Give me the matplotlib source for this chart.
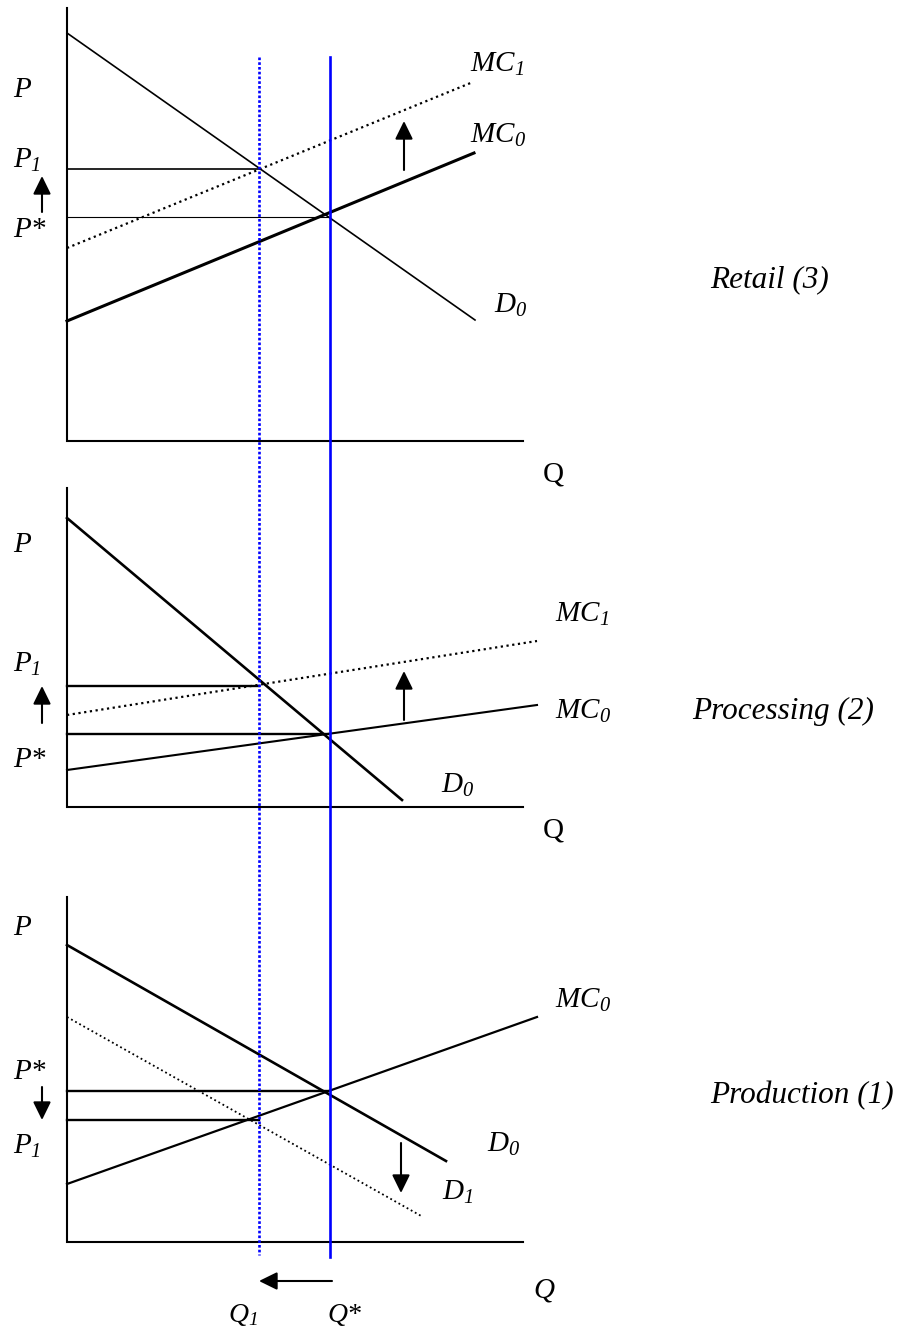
import matplotlib
matplotlib.use("Agg")
import matplotlib.pyplot as plt

plt.rcParams["font.family"] = ["Liberation Serif", "DejaVu Serif"]
plt.rcParams["mathtext.fontset"] = "custom"
plt.rcParams["mathtext.rm"] = "Liberation Serif:italic"
plt.rcParams["mathtext.it"] = "Liberation Serif:italic"
plt.rcParams["mathtext.default"] = "it"

# --- diagram geometry (pixel units, y grows downward) ---
# axes frames: x of P axis, top of P axis, y of Q axis, right end of Q axis
axis_x = [67, 67, 67]
axis_top = [8, 488, 897]
axis_base = [441, 807, 1242]
axis_right = [523, 523, 523]

# curves: (x0, y0, x1, y1, style, width)
retail_curves = [
    (67, 33, 475, 320, "-", 1.2),      # D0
    (67, 321, 474, 153, "-", 2.2),     # MC0
    (67, 248, 473, 82, ":", 1.6),      # MC1
]
processing_curves = [
    (67, 518, 402, 800, "-", 1.9),     # D0
    (67, 770, 537, 705, "-", 1.5),     # MC0
    (67, 715, 537, 641, ":", 1.6),     # MC1
]
production_curves = [
    (67, 945, 446, 1161, "-", 1.9),    # D0
    (67, 1017, 423, 1217, ":", 1.3),   # D1
    (67, 1184, 537, 1017, "-", 1.6),   # MC0
]

# price guide lines: (y, x_end, width)
price_lines = [
    (169, 259, 1.2), (217, 330, 0.8),
    (686, 259, 1.7), (734, 328, 1.7),
    (1091, 330, 1.7), (1120, 259, 1.7),
]

# quantities Q1 (dotted) and Q* (solid)
q_levels = [259, 330]
q_top = 57
q_bottom = [1255, 1257]

# arrows: (x_tail, y_tail, x_head, y_head)
arrows = [
    (42, 212, 42, 176), (404, 170, 404, 121),
    (42, 723, 42, 686), (404, 720, 404, 671),
    (42, 1087, 42, 1120), (401, 1143, 401, 1193),
    (332, 1281, 259, 1281),
]

# labels: (x, baseline y, text, size)
labels = [
    (13, 97, "P", 21), (13, 168, r"$P_1$", 21), (13, 237, "P*", 21),
    (470, 72, r"$MC_1$", 21), (470, 143, r"$MC_0$", 21),
    (494, 313, r"$D_0$", 21), (710, 287, "Retail (3)", 22.5),
    (13, 552, "P", 21), (13, 672, r"$P_1$", 21), (13, 767, "P*", 21),
    (555, 622, r"$MC_1$", 21), (555, 719, r"$MC_0$", 21),
    (441, 793, r"$D_0$", 21), (692, 719, "Processing (2)", 22.5),
    (13, 935, "P", 21), (13, 1079, "P*", 21), (13, 1154, r"$P_1$", 21),
    (555, 1008, r"$MC_0$", 21), (710, 1103, "Production (1)", 22.5),
    (487, 1152, r"$D_0$", 21), (442, 1200, r"$D_1$", 21),
    (533, 1298, "Q", 21), (228, 1322, r"$Q_1$", 20), (327, 1322, "Q*", 20),
]
upright_labels = [(543, 482, "Q"), (543, 838, "Q")]

fig = plt.figure(figsize=(9.02, 13.29), dpi=100)
ax = fig.add_axes([0, 0, 1, 1])
ax.set_xlim(0, 902)
ax.set_ylim(1329, 0)
ax.axis("off")

for i in range(3):
    ax.plot([axis_x[i], axis_x[i], axis_right[i]],
            [axis_top[i], axis_base[i], axis_base[i]],
            color="black", lw=1.5, solid_joinstyle="miter")

for curves in [retail_curves, processing_curves, production_curves]:
    for x0, y0, x1, y1, ls, w in curves:
        if ls == ":":
            ax.plot([x0, x1], [y0, y1], color="black", lw=w,
                    linestyle=(0, (1, 1.6)))
        else:
            ax.plot([x0, x1], [y0, y1], color="black", lw=w)

for y, xe, w in price_lines:
    ax.plot([67, xe], [y, y], color="black", lw=w)

ax.plot([q_levels[0], q_levels[0]], [q_top, q_bottom[0]], color="#0000ff",
        lw=1.9, linestyle=(0, (1, 0.8)))
ax.plot([q_levels[1], q_levels[1]], [q_top, q_bottom[1]], color="#0000ff",
        lw=1.9)

for xt, yt, xh, yh in arrows:
    ax.annotate("", xy=(xh, yh), xytext=(xt, yt),
                arrowprops=dict(arrowstyle="-|>,head_length=0.55,head_width=0.27",
                                color="black", lw=1.5, shrinkA=0, shrinkB=0,
                                mutation_scale=20))

for x, y, s, fs in labels:
    ax.text(x, y, s, fontsize=fs, fontstyle="italic", ha="left", va="baseline")
for x, y, s in upright_labels:
    ax.text(x, y, s, fontsize=21, ha="left", va="baseline")

fig.savefig("out.png", dpi=100)
